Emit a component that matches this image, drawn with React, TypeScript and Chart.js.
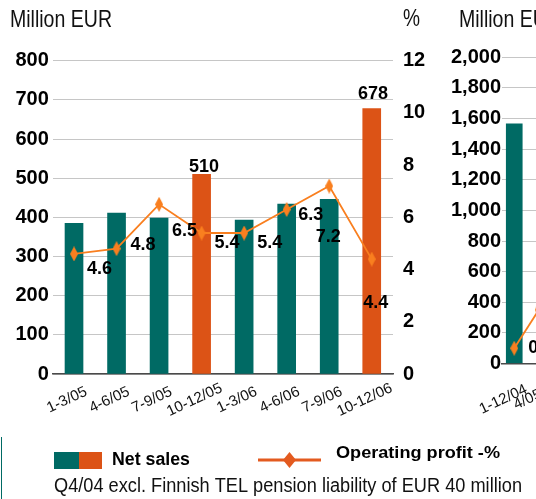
import React, { useEffect, useRef } from "react";
import { Chart, registerables } from "chart.js";
Chart.register(...registerables);

// ---- data ----
const categories = ["1-3/05", "4-6/05", "7-9/05", "10-12/05", "1-3/06", "4-6/06", "7-9/06", "10-12/06"];
const netSales = [385, 411, 398, 510, 393, 434, 446, 678];
const operatingProfitPct = [4.6, 4.8, 6.5, 5.4, 5.4, 6.3, 7.2, 4.4];
const salesAxis = { min: 0, max: 800, step: 100 };
const pctAxis = { min: 0, max: 12, step: 2 };

const annualCategories = ["1-12/04", "4/05"];
const annualNetSales: (number | null)[] = [1565, null];
const annualOperatingProfitPct = [0.6, 2.1];
const annualAxis = { min: 0, max: 2000, step: 200 };

const unitLabel = "Million EUR";
const pctLabel = "%";
const legendSales = "Net sales";
const legendProfit = "Operating profit -%";
const footnote = "Q4/04 excl. Finnish TEL pension liability of EUR 40 million";

// ---- style ----
const FONT = '"Liberation Sans", Arial, Helvetica, sans-serif';
const TEAL = "#006a64";
const ORANGE_BAR = "#dc5316";
const LINE_ORANGE = "#f97f1f";
const LEGEND_ORANGE = "#e35a1f";
const GRID = "#c6c6c6";
const AXIS = "#4a4a4a";

function diamond(w: number, h: number, color: string) {
  const c = document.createElement("canvas");
  c.width = w;
  c.height = h;
  const ctx = c.getContext("2d")!;
  ctx.fillStyle = color;
  ctx.beginPath();
  ctx.moveTo(w / 2, 0);
  ctx.lineTo(w, h / 2);
  ctx.lineTo(w / 2, h);
  ctx.lineTo(0, h / 2);
  ctx.closePath();
  ctx.fill();
  return c;
}

function drawText(
  ctx: CanvasRenderingContext2D,
  text: string,
  x: number,
  y: number,
  font: string,
  color: string,
  targetWidth?: number,
  align: CanvasTextAlign = "left",
  baseline: CanvasTextBaseline = "alphabetic"
) {
  ctx.save();
  ctx.font = font;
  ctx.fillStyle = color;
  ctx.textAlign = align;
  ctx.textBaseline = baseline;
  const w = ctx.measureText(text).width;
  const sx = targetWidth ? targetWidth / w : 1;
  ctx.translate(x, y);
  ctx.scale(sx, 1);
  ctx.fillText(text, 0, 0);
  ctx.restore();
}

function drawRotatedLabels(chart: any, labels: string[], dx: number, dy: number) {
  const ctx: CanvasRenderingContext2D = chart.ctx;
  const xs = chart.scales.x;
  labels.forEach((lab, i) => {
    const px = xs.getPixelForValue(i);
    ctx.save();
    ctx.translate(px + dx, xs.top + dy);
    ctx.rotate((-25 * Math.PI) / 180);
    ctx.font = `15px ${FONT}`;
    ctx.fillStyle = "#111";
    ctx.textAlign = "center";
    ctx.textBaseline = "middle";
    ctx.fillText(lab, 0, 0);
    ctx.restore();
  });
}

function drawPointLabels(chart: any, dsIndex: number, values: number[], offsets: number[][]) {
  const ctx: CanvasRenderingContext2D = chart.ctx;
  const meta = chart.getDatasetMeta(dsIndex);
  meta.data.forEach((el: any, i: number) => {
    const v = values[i];
    if (v == null || !offsets[i]) return;
    ctx.save();
    ctx.font = `bold 18px ${FONT}`;
    ctx.fillStyle = "#000";
    ctx.textAlign = "center";
    ctx.textBaseline = "middle";
    ctx.fillText(v.toFixed(1), el.x + offsets[i][0], el.y + offsets[i][1]);
    ctx.restore();
  });
}

const tickFont = { family: FONT, size: 20, weight: "bold" as const };

export default function App() {
  const ref1 = useRef<HTMLCanvasElement>(null);
  const ref2 = useRef<HTMLCanvasElement>(null);

  useEffect(() => {
    const marker = diamond(8, 15, LINE_ORANGE);

    const decor1 = {
      id: "decor1",
      afterDatasetsDraw(chart: any) {
        const ctx: CanvasRenderingContext2D = chart.ctx;
        drawPointLabels(chart, 1, operatingProfitPct, [
          [25.5, 15.6], [26.5, -3.5], [25.4, 26.5], [25.3, 10],
          [25.7, 10], [24, 5.7], [-1, 51], [4, 44],
        ]);
        // value labels over Q4 bars
        const barMeta = chart.getDatasetMeta(0);
        const barLabelOffsets: Record<number, number[]> = { 3: [2.5, -2], 7: [1.2, -9] };
        Object.keys(barLabelOffsets).forEach((k) => {
          const i = Number(k);
          const el = barMeta.data[i];
          ctx.save();
          ctx.font = `bold 18px ${FONT}`;
          ctx.fillStyle = "#000";
          ctx.textAlign = "center";
          ctx.textBaseline = "alphabetic";
          ctx.fillText(String(netSales[i]), el.x + barLabelOffsets[i][0], el.y + barLabelOffsets[i][1]);
          ctx.restore();
        });
        drawRotatedLabels(chart, categories, -7, 26);
      },
      afterDraw(chart: any) {
        const ctx: CanvasRenderingContext2D = chart.ctx;
        drawText(ctx, unitLabel, 10, 27, `24px ${FONT}`, "#111", 102);
        drawText(ctx, pctLabel, 403, 26, `24px ${FONT}`, "#111", 17);
        // legend
        ctx.save();
        ctx.fillStyle = TEAL;
        ctx.fillRect(54, 452, 25, 17);
        ctx.fillStyle = ORANGE_BAR;
        ctx.fillRect(79, 452, 23, 17);
        ctx.strokeStyle = LEGEND_ORANGE;
        ctx.lineWidth = 3;
        ctx.beginPath();
        ctx.moveTo(258, 460);
        ctx.lineTo(321, 460);
        ctx.stroke();
        ctx.drawImage(diamond(13, 16, LEGEND_ORANGE), 283, 452);
        ctx.strokeStyle = TEAL;
        ctx.lineWidth = 1;
        ctx.beginPath();
        ctx.moveTo(1.5, 437);
        ctx.lineTo(1.5, 499);
        ctx.stroke();
        ctx.restore();
        drawText(ctx, legendSales, 112, 465, `bold 18px ${FONT}`, "#000", 78);
        drawText(ctx, legendProfit, 336, 458, `bold 17px ${FONT}`, "#000", 164);
        drawText(ctx, footnote, 54, 492, `20px ${FONT}`, "#111", 468);
      },
    };

    const c1 = new Chart(ref1.current!, {
      type: "bar",
      data: {
        labels: categories,
        datasets: [
          {
            type: "bar",
            label: legendSales,
            data: netSales,
            backgroundColor: categories.map((_, i) => (i % 4 === 3 ? ORANGE_BAR : TEAL)),
            barThickness: 18,
            yAxisID: "y",
            order: 2,
          },
          {
            type: "line",
            label: legendProfit,
            data: operatingProfitPct,
            borderColor: LINE_ORANGE,
            borderWidth: 1.8,
            pointStyle: marker as any,
            pointRadius: 7,
            yAxisID: "y1",
            order: 1,
          },
        ],
      },
      options: {
        animation: false,
        responsive: false,
        events: [],
        layout: { padding: { left: 0, top: 60.7, right: 103, bottom: 65 } },
        plugins: { legend: { display: false }, tooltip: { enabled: false } },
        scales: {
          x: {
            type: "category",
            offset: true,
            grid: { display: false },
            border: { display: true, color: AXIS, width: 1.5 },
            ticks: { display: false },
            afterFit: (s: any) => {
              s.height = 60;
            },
          },
          y: {
            position: "left",
            min: salesAxis.min,
            max: salesAxis.max,
            ticks: { stepSize: salesAxis.step, font: tickFont, color: "#000", padding: 4 },
            grid: { color: GRID, lineWidth: 1, drawTicks: false },
            border: { display: false },
            afterFit: (s: any) => {
              s.width = 52.75;
            },
          },
          y1: {
            position: "right",
            min: pctAxis.min,
            max: pctAxis.max,
            ticks: { stepSize: pctAxis.step, font: tickFont, color: "#000", padding: 10 },
            grid: { display: false, drawTicks: false },
            border: { display: false },
            afterFit: (s: any) => {
              s.width = 40;
            },
          },
        },
      } as any,
      plugins: [decor1],
    });

    const decor2 = {
      id: "decor2",
      afterDatasetsDraw(chart: any) {
        drawPointLabels(chart, 1, annualOperatingProfitPct, [[26.5, 0], [26.5, 0]]);
        drawRotatedLabels(chart, annualCategories, -11, 36);
      },
      afterDraw(chart: any) {
        drawText(chart.ctx, unitLabel, 19, 27, `24px ${FONT}`, "#111", 102);
      },
    };

    const c2 = new Chart(ref2.current!, {
      type: "bar",
      data: {
        labels: annualCategories,
        datasets: [
          {
            type: "bar",
            data: annualNetSales,
            backgroundColor: TEAL,
            barThickness: 16,
            yAxisID: "y",
            order: 2,
          },
          {
            type: "line",
            data: annualOperatingProfitPct,
            borderColor: LINE_ORANGE,
            borderWidth: 1.8,
            pointStyle: marker as any,
            pointRadius: 7,
            yAxisID: "y1",
            order: 1,
          },
        ],
      },
      options: {
        animation: false,
        responsive: false,
        events: [],
        layout: { padding: { left: 0, top: 57.3, right: 49, bottom: 75.5 } },
        plugins: { legend: { display: false }, tooltip: { enabled: false } },
        scales: {
          x: {
            type: "category",
            offset: true,
            grid: { display: false },
            border: { display: true, color: AXIS, width: 1.5 },
            ticks: { display: false },
            afterFit: (s: any) => {
              s.height = 60;
            },
          },
          y: {
            position: "left",
            min: annualAxis.min,
            max: annualAxis.max,
            ticks: {
              stepSize: annualAxis.step,
              font: tickFont,
              color: "#000",
              padding: 1,
              callback: (v: any) => Number(v).toLocaleString("en-US"),
            },
            grid: { color: GRID, lineWidth: 1, drawTicks: false },
            border: { display: false },
            afterFit: (s: any) => {
              s.width = 62;
            },
          },
          y1: {
            position: "right",
            min: pctAxis.min,
            max: pctAxis.max,
            ticks: { stepSize: pctAxis.step, font: tickFont, color: "#000", padding: 10 },
            grid: { display: false, drawTicks: false },
            border: { display: false },
            afterFit: (s: any) => {
              s.width = 40;
            },
          },
        },
      } as any,
      plugins: [decor2],
    });

    return () => {
      c1.destroy();
      c2.destroy();
    };
  }, []);

  return (
    <div
      style={{
        position: "fixed",
        left: 0,
        top: 0,
        width: 536,
        height: 499,
        overflow: "hidden",
        background: "#fff",
      }}
    >
      <canvas ref={ref1} width={536} height={499} style={{ position: "absolute", left: 0, top: 0 }} />
      <canvas ref={ref2} width={200} height={499} style={{ position: "absolute", left: 440, top: 0 }} />
    </div>
  );
}
